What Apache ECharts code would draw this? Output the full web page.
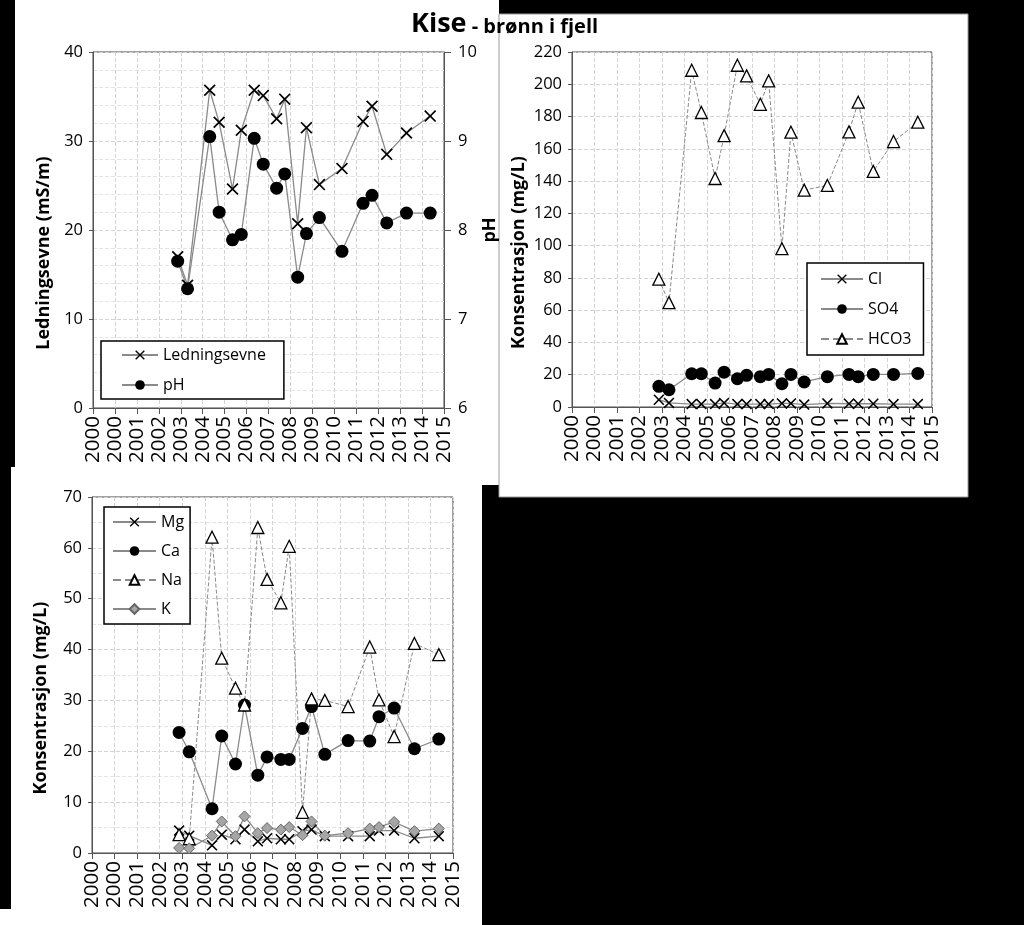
<!DOCTYPE html>
<html>
<head>
<meta charset="utf-8">
<script src="https://cdn.jsdelivr.net/npm/echarts@6/dist/echarts.min.js"></script>
<style>
html, body { margin: 0; padding: 0; background: #000; }
#chart { width: 1024px; height: 925px; }
</style>
</head>
<body>
<div id="chart"></div>
<script>
// position of each sample on the year axis, in tick steps (tick 0 = first "2000")
const samplePos = [3.86, 4.31, 5.32, 5.75, 6.36, 6.76, 7.35, 7.76, 8.37, 8.74,
    9.33, 9.73, 10.32, 11.35, 12.31, 12.72, 13.39, 14.29, 15.37]
const yearLabels = ['2000', '2000', '2001', '2002', '2003', '2004', '2005', '2006', '2007',
    '2008', '2009', '2010', '2011', '2012', '2013', '2014', '2015']

const ledningsevne = [17.0, 13.8, 35.7, 32.1, 24.6, 31.2, 35.7, 35.1, 32.5, 34.7,
    20.7, 31.5, 25.1, 26.9, 32.2, 33.9, 28.5, 30.9, 32.8]
const ph = [7.65, 7.34, 9.05, 8.20, 7.89, 7.95, 9.03, 8.74, 8.47, 8.63,
    7.47, 7.96, 8.14, 7.76, 8.30, 8.39, 8.08, 8.19, 8.19]

const cl = [4.5, 2.5, 1.8, 1.8, 1.8, 2.5, 1.8, 1.8, 1.8, 1.8,
    2.2, 2.2, 1.5, 2.2, 2.0, 2.0, 2.0, 1.8, 1.8]
const so4 = [12.8, 10.7, 20.6, 20.6, 14.8, 21.6, 17.5, 19.6, 18.8, 20.2,
    14.4, 20.2, 15.5, 18.8, 20.2, 18.8, 20.2, 20.2, 20.8]
const hco3 = [79.2, 64.7, 208.7, 182.5, 141.6, 168.2, 211.8, 205.2, 187.6, 202.1,
    98.1, 170.3, 134.4, 137.3, 170.5, 188.9, 146.0, 164.5, 176.5]

const mg = [4.4, 3.4, 1.5, 3.6, 2.7, 4.6, 2.3, 2.9, 2.7, 2.7,
    4.3, 4.6, 3.3, 3.3, 3.3, 4.4, 4.4, 2.9, 3.3]
const ca = [23.7, 19.9, 8.7, 23.0, 17.5, 29.1, 15.3, 18.9, 18.4, 18.4,
    24.5, 28.8, 19.4, 22.1, 22.0, 26.8, 28.5, 20.5, 22.4]
const na = [3.6, 2.8, 62.1, 38.3, 32.4, 29.1, 64.0, 53.8, 49.2, 60.3,
    8.0, 30.3, 30.0, 28.8, 40.5, 30.1, 22.9, 41.2, 39.0]
const k = [1.0, 0.9, 3.4, 6.2, 3.3, 7.2, 3.9, 4.9, 4.6, 5.1,
    3.5, 6.2, 3.4, 3.9, 4.8, 5.1, 6.1, 4.3, 4.8]

const pairs = (vals) => vals.map((v, i) => [samplePos[i], v])

const font = 'Open Sans'
const xMark = 'path://M0,1L1,0L5,4L9,0L10,1L6,5L10,9L9,10L5,6L1,10L0,9L4,5Z'
const lineGrey = '#8a8a8a'

const chart = echarts.init(document.getElementById('chart'))

const xAxisFor = (gridIndex) => ({
    type: 'value',
    gridIndex: gridIndex,
    min: 0,
    max: 16,
    interval: 1,
    axisLine: { lineStyle: { color: '#555' } },
    axisTick: { show: true, length: 6, lineStyle: { color: '#555' } },
    axisLabel: {
        rotate: 90,
        margin: 8,
        fontSize: 20.5,
        fontFamily: font,
        color: '#000',
        formatter: (v) => yearLabels[v]
    },
    splitLine: { show: true, lineStyle: { color: '#d4d4d4', type: 'dashed' } }
})

// names sit a bit below the middle of the axis in the original
const yAxisFor = (gridIndex, max, interval, minorSplit, name, nameGap) => ({
    type: 'value',
    gridIndex: gridIndex,
    min: 0,
    max: max,
    interval: interval,
    name: name,
    nameLocation: 'middle',
    nameRotate: 90,
    nameGap: nameGap,
    nameTextStyle: { fontSize: 18, fontWeight: 'bold', fontFamily: font, color: '#000', padding: [0, 46, 0, 0] },
    axisLine: { show: true, lineStyle: { color: '#555' } },
    axisTick: { show: true, length: 4, lineStyle: { color: '#555' } },
    axisLabel: { fontSize: 16.5, fontFamily: font, color: '#000', margin: 10 },
    splitLine: { show: true, lineStyle: { color: '#d4d4d4', type: 'dashed' } },
    minorTick: { show: minorSplit > 0, splitNumber: minorSplit || 5, length: 0 },
    minorSplitLine: { show: minorSplit > 0, lineStyle: { color: '#e4e4e4', type: 'dashed' } }
})

const legendFor = (names, left, top, padding, itemGap, itemWidth) => ({
    data: names,
    orient: 'vertical',
    left: left,
    top: top,
    padding: padding,
    itemGap: itemGap,
    itemWidth: itemWidth,
    itemHeight: 12,
    borderColor: '#000',
    borderWidth: 1.5,
    backgroundColor: '#fff',
    textStyle: { fontSize: 16, fontFamily: font, color: '#000' }
})

const xSeries = (name, data, xi, yi, size) => ({
    name: name, type: 'line', xAxisIndex: xi, yAxisIndex: yi,
    data: pairs(data), symbol: xMark, symbolSize: size,
    itemStyle: { color: '#000' },
    lineStyle: { color: lineGrey, width: 1.3 }
})
const dotSeries = (name, data, xi, yi) => ({
    name: name, type: 'line', xAxisIndex: xi, yAxisIndex: yi,
    data: pairs(data), symbol: 'circle', symbolSize: 13,
    itemStyle: { color: '#000' },
    lineStyle: { color: lineGrey, width: 1.3 }
})
const triSeries = (name, data, xi, yi) => ({
    name: name, type: 'line', xAxisIndex: xi, yAxisIndex: yi,
    data: pairs(data), symbol: 'triangle', symbolSize: 12,
    itemStyle: { color: '#fff', borderColor: '#000', borderWidth: 1.3 },
    lineStyle: { color: lineGrey, width: 1, type: 'dashed' }
})

const option = {
    backgroundColor: '#000',
    animation: false,
    graphic: [
        { type: 'rect', silent: true, z: -10, shape: { x: 15, y: 0, width: 484, height: 485 }, style: { fill: '#fff' } },
        { type: 'rect', silent: true, z: -10, shape: { x: 11, y: 467, width: 471, height: 458 }, style: { fill: '#fff' } },
        { type: 'rect', silent: true, z: -10, shape: { x: 0, y: 909, width: 482, height: 16 }, style: { fill: '#fff' } },
        { type: 'rect', silent: true, z: -10, shape: { x: 499, y: 14, width: 469, height: 483 }, style: { fill: '#fff', stroke: '#999', lineWidth: 1 } }
    ],
    title: {
        text: '{a|Kise}{b| - brønn i fjell}',
        left: 406,
        top: 6,
        textStyle: {
            rich: {
                a: { fontSize: 27, fontWeight: 'bold', fontFamily: font, color: '#000' },
                b: { fontSize: 20, fontWeight: 'bold', fontFamily: font, color: '#000', padding: [6, 0, 0, 0] }
            }
        }
    },
    grid: [
        { left: 93, right: 580, top: 52, bottom: 517, show: true, borderColor: '#444', borderWidth: 1 },
        { left: 572, right: 92, top: 52, bottom: 518, show: true, borderColor: '#444', borderWidth: 1 },
        { left: 92, right: 571, top: 497, bottom: 72, show: true, borderColor: '#444', borderWidth: 1 }
    ],
    legend: [
        legendFor(['Ledningsevne', 'pH'], 101, 341, [6, 18, 6, 20], 14, 36),
        legendFor(['Cl', 'SO4', 'HCO3'], 807, 263, [8, 12, 8, 13], 14, 42),
        legendFor(['Mg', 'Ca', 'Na', 'K'], 104, 507, [7, 6, 7, 8], 13, 43)
    ],
    xAxis: [xAxisFor(0), xAxisFor(1), xAxisFor(2)],
    yAxis: [
        yAxisFor(0, 40, 10, 5, 'Ledningsevne (mS/m)', 40),
        Object.assign(yAxisFor(0, 10, 1, 0, 'pH', 30), {
            min: 6, position: 'right', splitLine: { show: false },
            nameTextStyle: { fontSize: 18, fontWeight: 'bold', fontFamily: font, color: '#000' },
            axisTick: { show: true, length: 7, lineStyle: { color: '#555' } },
            axisLabel: { fontSize: 16.5, fontFamily: font, color: '#000', margin: 14 }
        }),
        yAxisFor(1, 220, 20, 0, 'Konsentrasjon (mg/L)', 44),
        yAxisFor(2, 70, 10, 2, 'Konsentrasjon (mg/L)', 42)
    ],
    series: [
        xSeries('Ledningsevne', ledningsevne, 0, 0, 12),
        dotSeries('pH', ph, 0, 1),
        xSeries('Cl', cl, 1, 2, 11),
        dotSeries('SO4', so4, 1, 2),
        triSeries('HCO3', hco3, 1, 2),
        xSeries('Mg', mg, 2, 3, 11),
        dotSeries('Ca', ca, 2, 3),
        triSeries('Na', na, 2, 3),
        {
            name: 'K', type: 'line', xAxisIndex: 2, yAxisIndex: 3,
            data: pairs(k), symbol: 'diamond', symbolSize: 11,
            itemStyle: { color: '#a6a6a6', borderColor: '#666', borderWidth: 1 },
            lineStyle: { color: lineGrey, width: 1.3 }
        }
    ]
}

chart.setOption(option)
</script>
</body>
</html>
